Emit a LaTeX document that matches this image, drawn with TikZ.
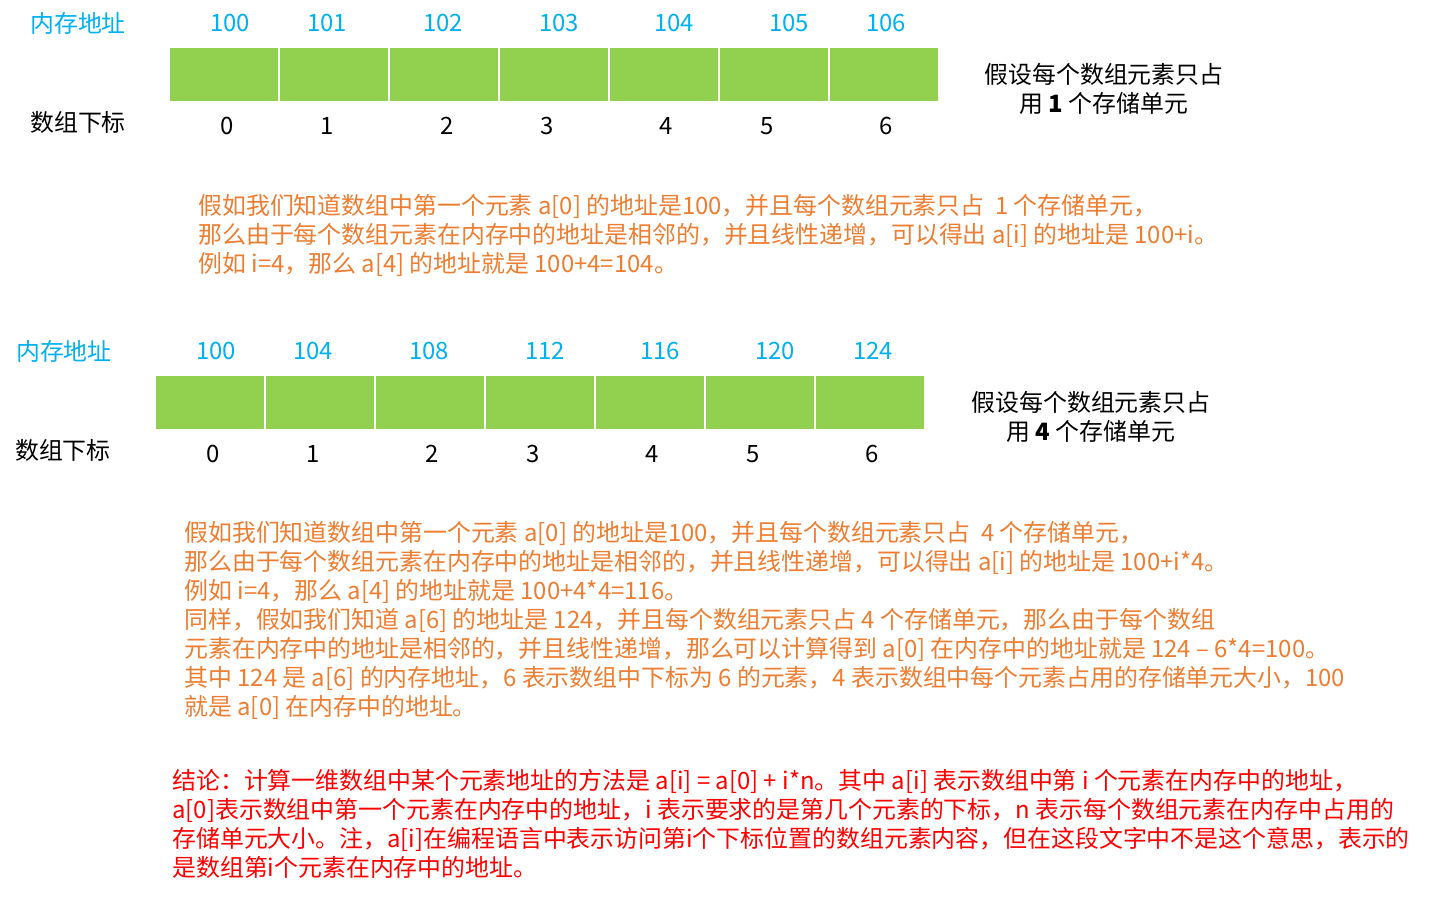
\documentclass[tikz,border=0pt]{standalone}
\usepackage{fontspec}
\setmainfont{Noto Sans CJK SC}
\usetikzlibrary{positioning}
\definecolor{cgreen}{HTML}{92D050}
\definecolor{cblue}{HTML}{00B0F0}
\definecolor{corange}{HTML}{ED7D31}
\definecolor{cred}{HTML}{FF0000}
\tikzset{
  every picture/.style={font=\fontsize{13.6}{16.5}\selectfont},
  cell/.style={fill=cgreen, draw=white, line width=1pt, minimum width=2.2cm, minimum height=1.1cm, inner sep=0pt},
  addr/.style={text=cblue, inner sep=0pt},
  idx/.style={text=black, inner sep=0pt},
  note/.style={align=center, inner sep=0pt},
  para/.style={text=#1, align=left, anchor=west, inner sep=0pt},
  para/.default=corange,
}

\begin{document}
\begin{tikzpicture}[x=0.02cm, y=-0.02cm]
  \useasboundingbox (0,0) rectangle (1430,896);
  % first array: each element takes 1 unit
  \foreach \i in {0,...,6}
    \node[cell] (a\i) at (224+110*\i, 74.5) {};
  \node[addr] (mem1) at (78,23) {内存地址};
  \node[idx] (sub1) at (78,122) {数组下标};
  \foreach \i/\x/\v in {0/230/100, 1/327/101, 2/443/102, 3/559/103, 4/674/104, 5/789/105, 6/886/106}
    \node[addr] (ad\i) at (\x,23) {\v};
  \foreach \i/\x in {0/227, 1/327, 2/447, 3/547, 4/666, 5/767, 6/886}
    \node[idx] (ix\i) at (\x,126) {\i};
  \node[note] (n1) at (1104,88.5) {假设每个数组元素只占\\用 \textbf{1} 个存储单元};
  \node[para] (p1) at (198,235) {假如我们知道数组中第一个元素 a[0] 的地址是100，并且每个数组元素只占\ \ 1 个存储单元，\\
    那么由于每个数组元素在内存中的地址是相邻的，并且线性递增，可以得出 a[i] 的地址是 100+i。\\
    例如 i=4，那么 a[4] 的地址就是 100+4=104。};

  % second array: each element takes 4 units
  \foreach \i in {0,...,6}
    \node[cell] (b\i) at (210+110*\i, 402.5) {};
  \node[addr] (mem2) at (64,351) {内存地址};
  \node[idx] (sub2) at (63,450) {数组下标};
  \foreach \i/\x/\v in {0/216/100, 1/313/104, 2/429/108, 3/545/112, 4/660/116, 5/775/120, 6/873/124}
    \node[addr] (bd\i) at (\x,351) {\v};
  \foreach \i/\x in {0/213, 1/313, 2/432, 3/533, 4/652, 5/753, 6/872}
    \node[idx] (jx\i) at (\x,454) {\i};
  \node[note] (n2) at (1091,416.5) {假设每个数组元素只占\\用 \textbf{4} 个存储单元};
  \node[para] (p2) at (184,620.5) {假如我们知道数组中第一个元素 a[0] 的地址是100，并且每个数组元素只占\ \ 4 个存储单元，\\
    那么由于每个数组元素在内存中的地址是相邻的，并且线性递增，可以得出 a[i] 的地址是 100+i*4。\\
    例如 i=4，那么 a[4] 的地址就是 100+4*4=116。\\
    同样，假如我们知道 a[6] 的地址是 124，并且每个数组元素只占 4 个存储单元，那么由于每个数组\\
    元素在内存中的地址是相邻的，并且线性递增，那么可以计算得到 a[0] 在内存中的地址就是 124 – 6*4=100。\\
    其中 124 是 a[6] 的内存地址，6 表示数组中下标为 6 的元素，4 表示数组中每个元素占用的存储单元大小，100\\
    就是 a[0] 在内存中的地址。};

  % conclusion
  \node[para=cred] (p3) at (172,823.5) {结论：计算一维数组中某个元素地址的方法是 a[i] = a[0] + i*n。其中 a[i] 表示数组中第 i 个元素在内存中的地址，\\
    a[0]表示数组中第一个元素在内存中的地址，i 表示要求的是第几个元素的下标，n 表示每个数组元素在内存中占用的\\
    存储单元大小。注，a[i]在编程语言中表示访问第i个下标位置的数组元素内容，但在这段文字中不是这个意思，表示的\\
    是数组第i个元素在内存中的地址。};
\end{tikzpicture}
\end{document}
